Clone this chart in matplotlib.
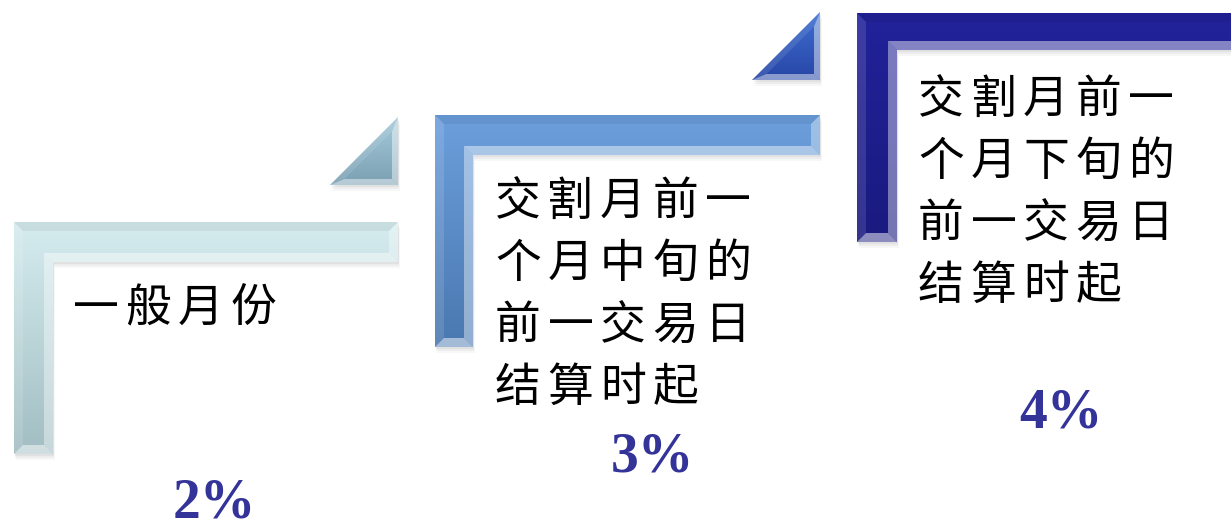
import numpy as np
import matplotlib
matplotlib.use("Agg")
import matplotlib.pyplot as plt
from matplotlib.patches import Polygon
from matplotlib.colors import LinearSegmentedColormap

# rate steps
rates = [2, 3, 4]
labels = [
    ["一般月份"],
    ["交割月前一", "个月中旬的", "前一交易日", "结算时起"],
    ["交割月前一", "个月下旬的", "前一交易日", "结算时起"],
]

# step shapes (pixel layout, y grows downward)
step_x0 = [14, 435, 857]
step_xi = [53, 473, 897]
step_x1 = [398, 820, 1245]
step_yt = [222, 115, 13]
step_yb = [262, 155, 50]
step_ybot = [454, 347, 242]
step_top_col = ["#d5ecef", "#6c9fdc", "#22229a"]
step_bot_col = ["#a2bec3", "#4a78b0", "#1a1a80"]

# arrow triangles between steps
tri_xl = [330, 752]
tri_xr = [398, 820]
tri_yt = [117, 12]
tri_yb = [185, 80]
tri_top_col = ["#a6cbdb", "#3d6fd2"]
tri_bot_col = ["#7aa0b2", "#2846a6"]

text_x = [73, 495, 918]
text_y = [305, 198, 96]
rate_x = [214, 652, 1061]
rate_y = [504, 458, 413]

W, H = 1231, 527
fig = plt.figure(figsize=(W / 100, H / 100), dpi=100)
ax = fig.add_axes([0, 0, 1, 1])
ax.axis("off")


def gradient_poly(verts, c_top, c_bot, z):
    patch = Polygon(verts, closed=True, fc="none", ec="none", zorder=z)
    ax.add_patch(patch)
    xs = [v[0] for v in verts]
    ys = [v[1] for v in verts]
    cmap = LinearSegmentedColormap.from_list("g", [c_top, c_bot])
    grad = np.linspace(0, 1, 256)[:, None]
    ax.imshow(grad, cmap=cmap, aspect="auto", interpolation="bilinear",
              extent=(min(xs), max(xs), max(ys), min(ys)),
              clip_path=patch, zorder=z)


def facet(verts, color, alpha, z):
    ax.add_patch(Polygon(verts, closed=True, fc=color, ec="none",
                         alpha=alpha, zorder=z))


def shadow(verts, z):
    for k, a in [(6, 0.06), (4, 0.08), (2, 0.10)]:
        sv = [(x + k * 0.3, y + k) for x, y in verts]
        facet(sv, "#808080", a, z)


for i in range(3):
    x0, xi, x1 = step_x0[i], step_xi[i], step_x1[i]
    yt, yb, ybot = step_yt[i], step_yb[i], step_ybot[i]
    b = 9
    outer = [(x0, yt), (x1, yt), (x1, yb), (xi, yb), (xi, ybot), (x0, ybot)]
    inner = [(x0 + b, yt + b), (x1 - b, yt + b), (x1 - b, yb - b),
             (xi - b, yb - b), (xi - b, ybot - b), (x0 + b, ybot - b)]
    shadow(outer, 1)
    gradient_poly(outer, step_top_col[i], step_bot_col[i], 2)
    # bevel faces: top, right end, under bar, inner edge, foot, outer edge
    shades = [("#000000", 0.06), ("#ffffff", 0.35), ("#ffffff", 0.45),
              ("#ffffff", 0.40), ("#ffffff", 0.50), ("#ffffff", 0.12)]
    for j in range(6):
        k = (j + 1) % 6
        col, a = shades[j]
        facet([outer[j], outer[k], inner[k], inner[j]], col, a, 3)

for i in range(2):
    xl, xr, yt, yb = tri_xl[i], tri_xr[i], tri_yt[i], tri_yb[i]
    b = 6
    k = b * (1 + np.sqrt(2))
    outer = [(xr, yt), (xr, yb), (xl, yb)]
    inner = [(xr - b, yt + k), (xr - b, yb - b), (xl + k, yb - b)]
    shadow(outer, 1)
    gradient_poly(outer, tri_top_col[i], tri_bot_col[i], 2)
    shades = [("#ffffff", 0.45), ("#ffffff", 0.45), ("#ffffff", 0.10)]
    for j in range(3):
        m = (j + 1) % 3
        col, a = shades[j]
        facet([outer[j], outer[m], inner[m], inner[j]], col, a, 3)

# labels, one glyph at a time for the wide spacing
adv = 52.5
line_gap = 62
for i in range(3):
    for r, line in enumerate(labels[i]):
        for c, ch in enumerate(line):
            ax.text(text_x[i] + c * adv, text_y[i] + r * line_gap + 17, ch,
                    fontsize=33, family=["Noto Sans CJK SC", "DejaVu Sans"],
                    color="black", ha="left", va="baseline", zorder=5)
    ax.text(rate_x[i], rate_y[i], f"{rates[i]}%", fontsize=40,
            family=["Liberation Serif", "DejaVu Serif"], fontweight="bold",
            color="#333399", ha="center", va="center", zorder=5)

ax.set_xlim(0, W)
ax.set_ylim(H, 0)
fig.savefig("out.png", dpi=100, facecolor="white")
